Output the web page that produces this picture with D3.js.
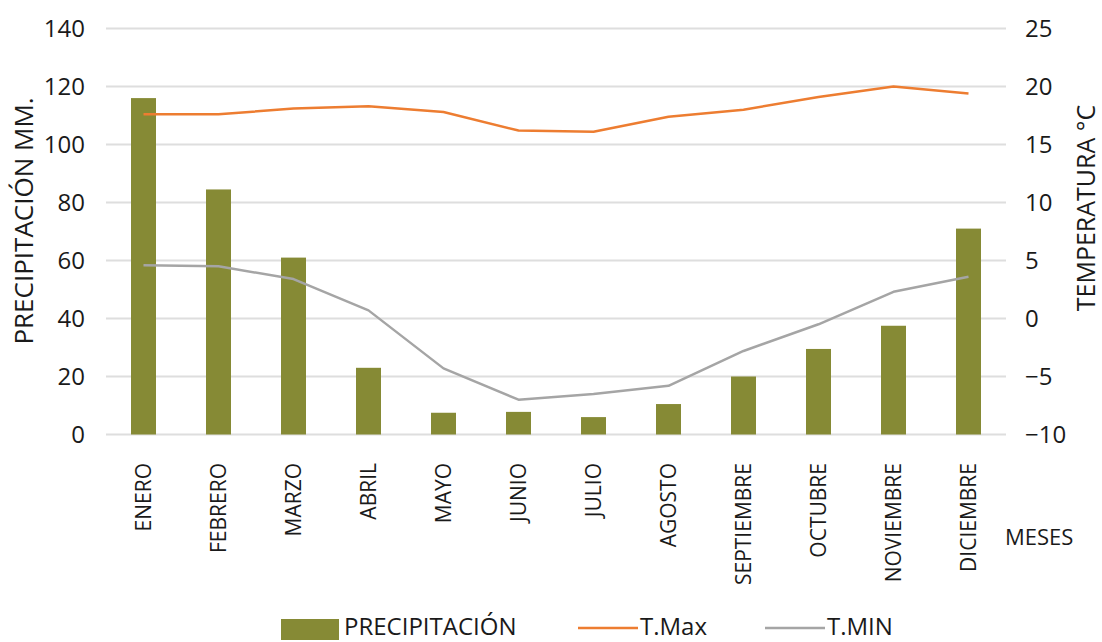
<!DOCTYPE html>
<html>
<head>
<meta charset="utf-8">
<script src="https://cdn.jsdelivr.net/npm/d3@7"></script>
<style>
  body { margin: 0; background: #fff; }
  svg text { font-family: "Open Sans", sans-serif; fill: #1a1a1a; }
</style>
</head>
<body>
<div id="grafico"></div>
<script>
const meses = ["ENERO", "FEBRERO", "MARZO", "ABRIL", "MAYO", "JUNIO", "JULIO", "AGOSTO", "SEPTIEMBRE", "OCTUBRE", "NOVIEMBRE", "DICIEMBRE"];
const precipitacion = [116, 84.5, 61, 23, 7.5, 7.8, 6, 10.5, 20, 29.5, 37.5, 71];
const tMax = [17.6, 17.6, 18.1, 18.3, 17.8, 16.2, 16.1, 17.4, 18.0, 19.1, 20.0, 19.4];
const tMin = [4.6, 4.5, 3.4, 0.7, -4.3, -7.0, -6.5, -5.8, -2.8, -0.5, 2.3, 3.6];
const ticksPrecip = [0, 20, 40, 60, 80, 100, 120, 140];
const ticksTemp = [-10, -5, 0, 5, 10, 15, 20, 25];

const ancho = 1102, alto = 642;
const izq = 106, der = 1006, arriba = 28.5, abajo = 434.5;

const verdeOliva = "#868a35", naranja = "#ed7d31", gris = "#a5a5a5", rejilla = "#dedede";

const $svg = d3.select("#grafico")
    .append("svg")
    .attr("width", ancho)
    .attr("height", alto);

// barras de 1/3 del paso, como en la hoja original
const x = d3.scaleBand()
    .domain(meses)
    .range([izq, der])
    .paddingInner(2 / 3)
    .paddingOuter(1 / 3);

const yP = d3.scaleLinear().domain([0, 140]).range([abajo, arriba]);
const yT = d3.scaleLinear().domain([-10, 25]).range([abajo, arriba]);

// rejilla
$svg.append("g")
    .selectAll("line")
    .data(ticksPrecip)
    .join("line")
    .attr("x1", izq).attr("x2", der)
    .attr("y1", d => yP(d)).attr("y2", d => yP(d))
    .attr("stroke", rejilla)
    .attr("stroke-width", 2);

// ejes
const ejeIzq = $svg.append("g")
    .attr("transform", `translate(${izq},0)`)
    .call(d3.axisLeft(yP).tickValues(ticksPrecip).tickSize(0).tickPadding(21));
ejeIzq.select(".domain").remove();
ejeIzq.selectAll("text").attr("font-size", 24).attr("font-family", "Open Sans").attr("fill", "#1a1a1a");

const ejeDer = $svg.append("g")
    .attr("transform", `translate(${der},0)`)
    .call(d3.axisRight(yT).tickValues(ticksTemp).tickSize(0).tickPadding(19));
ejeDer.select(".domain").remove();
ejeDer.selectAll("text").attr("font-size", 24).attr("font-family", "Open Sans").attr("fill", "#1a1a1a");

// barras
$svg.append("g")
    .selectAll("rect")
    .data(precipitacion)
    .join("rect")
    .attr("x", (d, i) => x(meses[i]))
    .attr("width", x.bandwidth())
    .attr("y", d => yP(d))
    .attr("height", d => yP(0) - yP(d))
    .attr("fill", verdeOliva);

// lineas
const centro = i => x(meses[i]) + x.bandwidth() / 2;
const linea = d3.line()
    .x((d, i) => centro(i))
    .y(d => yT(d));

$svg.append("path")
    .datum(tMin)
    .attr("d", linea)
    .attr("fill", "none")
    .attr("stroke", gris)
    .attr("stroke-width", 2.5)
    .attr("stroke-linejoin", "round");

$svg.append("path")
    .datum(tMax)
    .attr("d", linea)
    .attr("fill", "none")
    .attr("stroke", naranja)
    .attr("stroke-width", 2.5)
    .attr("stroke-linejoin", "round");

// etiquetas de meses
$svg.append("g")
    .selectAll("text")
    .data(meses)
    .join("text")
    .attr("transform", d => `translate(${x(d) + x.bandwidth() / 2},463) rotate(-90)`)
    .attr("text-anchor", "end")
    .attr("dy", "0.36em")
    .attr("font-size", 21)
    .text(d => d);

$svg.append("text")
    .attr("x", 1005).attr("y", 545)
    .attr("font-size", 22)
    .text("MESES");

// titulos de ejes
$svg.append("text")
    .attr("transform", "translate(24,221) rotate(-90)")
    .attr("text-anchor", "middle")
    .attr("dy", "0.36em")
    .attr("font-size", 26)
    .text("PRECIPITACIÓN MM.");

$svg.append("text")
    .attr("transform", "translate(1086,208) rotate(-90)")
    .attr("text-anchor", "middle")
    .attr("dy", "0.36em")
    .attr("font-size", 25)
    .text("TEMPERATURA °C");

// leyenda (subida un poco para que el texto no quede cortado)
const leyenda = $svg.append("g");
leyenda.append("rect")
    .attr("x", 281).attr("y", 619).attr("width", 58).attr("height", 21)
    .attr("fill", verdeOliva);
leyenda.append("text").attr("x", 344).attr("y", 635).attr("font-size", 24).text("PRECIPITACIÓN");

leyenda.append("line")
    .attr("x1", 578).attr("x2", 638).attr("y1", 628).attr("y2", 628)
    .attr("stroke", naranja).attr("stroke-width", 2.5);
leyenda.append("text").attr("x", 640).attr("y", 635).attr("font-size", 24).text("T.Max");

leyenda.append("line")
    .attr("x1", 765).attr("x2", 825).attr("y1", 628).attr("y2", 628)
    .attr("stroke", gris).attr("stroke-width", 2.5);
leyenda.append("text").attr("x", 827).attr("y", 635).attr("font-size", 24).text("T.MIN");
</script>
</body>
</html>
